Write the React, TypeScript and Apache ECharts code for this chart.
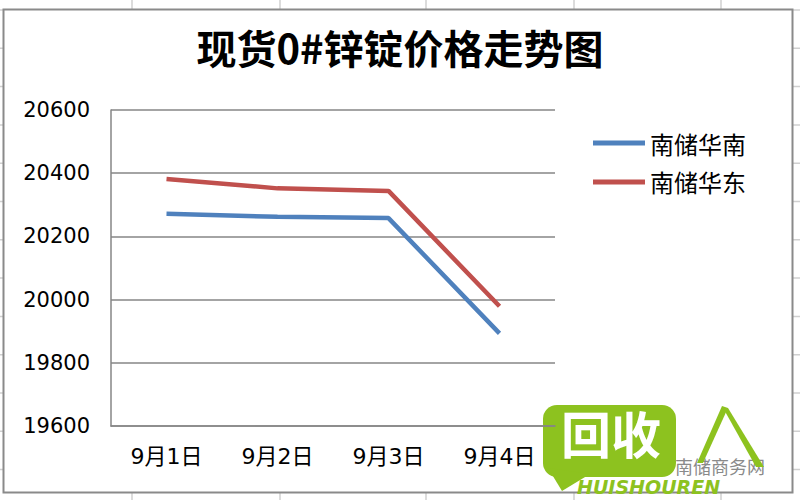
import React, { useEffect, useRef } from "react";
import * as echarts from "echarts";

const categories = ["9月1日", "9月2日", "9月3日", "9月4日"];
const seriesNames = ["南储华南", "南储华东"];
const southValues = [20272, 20262, 20258, 19893];
const eastValues = [20382, 20352, 20344, 19979];
const yMin = 19600;
const yMax = 20600;
const yStep = 200;
const titleText = "现货0#锌锭价格走势图";

export default function App() {
  const ref = useRef<HTMLDivElement>(null);
  useEffect(() => {
    if (!ref.current) return;
    const chart = echarts.init(ref.current, null, { renderer: "svg" });
    const sheetLines: any[] = [];
    const vx = [132, 280, 426, 574, 721];
    vx.forEach((x) =>
      sheetLines.push({
        type: "line",
        z: -10,
        shape: { x1: x, y1: 0, x2: x, y2: 500 },
        style: { stroke: "#d0d0d0", lineWidth: 1.5 },
      })
    );
    for (let y = 10; y < 500; y += 38.3) {
      sheetLines.push({
        type: "line",
        z: -10,
        shape: { x1: 0, y1: y, x2: 800, y2: y },
        style: { stroke: "#d0d0d0", lineWidth: 1.5 },
      });
    }
    const cjk = "'Noto Sans CJK SC', 'DejaVu Sans', sans-serif";
    const green = "#8dc21f";
    chart.setOption({
      animation: false,
      backgroundColor: "#ffffff",
      title: {
        text: titleText,
        left: "center",
        top: 22,
        textStyle: {
          fontFamily: cjk,
          fontSize: 40,
          fontWeight: "bold",
          color: "#000",
        },
      },
      legend: {
        orient: "vertical",
        left: 588,
        top: 126,
        itemWidth: 52,
        itemHeight: 5,
        itemGap: 15,
        icon: "rect",
        data: seriesNames,
        textStyle: {
          fontFamily: cjk,
          fontSize: 24,
          color: "#000",
          padding: [0, 0, 0, 0],
        },
      },
      grid: { left: 111, top: 110, width: 444, height: 316 },
      xAxis: {
        type: "category",
        data: categories,
        boundaryGap: true,
        axisLine: { show: true, lineStyle: { color: "#868686", width: 1.5 } },
        axisTick: { show: false },
        axisLabel: {
          fontFamily: "'DejaVu Sans', 'Noto Sans CJK SC', sans-serif",
          fontSize: 22,
          color: "#000",
          margin: 19,
        },
      },
      yAxis: {
        type: "value",
        min: yMin,
        max: yMax,
        interval: yStep,
        axisLine: { show: true, lineStyle: { color: "#868686", width: 1.5 } },
        axisTick: { show: false },
        splitLine: { lineStyle: { color: "#868686", width: 1.5 } },
        axisLabel: {
          fontFamily: "'DejaVu Sans', sans-serif",
          fontSize: 21,
          color: "#000",
          margin: 21,
          formatter: (v: number) => String(v),
        },
      },
      series: [
        {
          name: seriesNames[0],
          type: "line",
          data: southValues,
          showSymbol: false,
          symbol: "none",
          lineStyle: { color: "#4F81BD", width: 4.5 },
          itemStyle: { color: "#4F81BD" },
        },
        {
          name: seriesNames[1],
          type: "line",
          data: eastValues,
          showSymbol: false,
          symbol: "none",
          lineStyle: { color: "#C0504D", width: 4.5 },
          itemStyle: { color: "#C0504D" },
        },
      ],
      graphic: [
        ...sheetLines,
        {
          type: "rect",
          z: -5,
          shape: { x: 3.5, y: 9.5, width: 789, height: 483 },
          style: { fill: "#ffffff", stroke: "#8a8a8a", lineWidth: 2 },
        },
        {
          type: "group",
          z: 100,
          children: [
            {
              type: "rect",
              shape: { x: 543, y: 405, width: 133, height: 72, r: 14 },
              style: { fill: green },
            },
            {
              type: "polygon",
              shape: { points: [[548, 468], [562, 491], [590, 474]] },
              style: { fill: green },
            },
            {
              type: "text",
              x: 561,
              y: 407,
              style: {
                text: "回收",
                fill: "#ffffff",
                font: "bold 50px 'Noto Sans CJK SC'",
              },
            },
            {
              type: "text",
              x: 577,
              y: 477,
              style: {
                text: "HUISHOUREN",
                fill: green,
                font: "italic bold 19px 'DejaVu Sans'",
              },
            },
            {
              type: "text",
              x: 675,
              y: 457,
              style: {
                text: "南储商务网",
                fill: "#8a8a8a",
                font: "18px 'Noto Sans CJK SC'",
              },
            },
            {
              type: "polygon",
              shape: { points: [[722, 406], [727, 410], [703, 463], [697, 463]] },
              style: { fill: green },
            },
            {
              type: "polygon",
              shape: { points: [[722, 406], [728, 408], [764, 467], [756, 467]] },
              style: { fill: green },
            },
          ],
        },
      ],
    });
    return () => chart.dispose();
  }, []);
  return (
    <div
      ref={ref}
      style={{ position: "fixed", left: 0, top: 0, width: 800, height: 500 }}
    />
  );
}
